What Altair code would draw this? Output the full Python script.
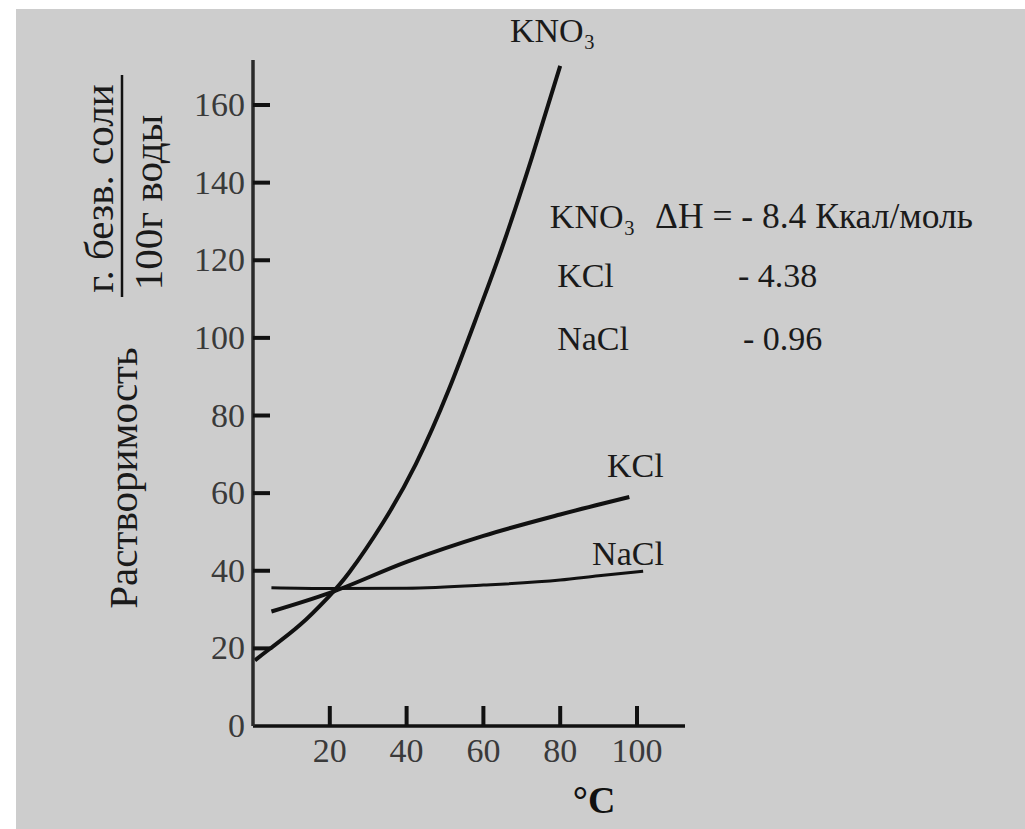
import altair as alt
import pandas as pd

# ---- data ----
kno3_t = [0.5, 4.4, 12.2, 19.5, 25.1, 33.8, 42.4, 51.0, 58.8, 64.8, 72.6, 80.0]
kno3_v = [16.9, 19.9, 26.0, 33.1, 39.6, 52.3, 67.5, 86.7, 106.9, 123.1, 146.4, 170.1]

kcl_t = [4.8, 20, 40, 60, 80, 98]
kcl_v = [29.5, 34.3, 42.3, 49.0, 54.5, 59.0]

nacl_t = [4.8, 20, 40, 60, 80, 90, 101.6]
nacl_v = [35.6, 35.4, 35.5, 36.3, 37.6, 38.7, 39.9]

x_ticks = [20, 40, 60, 80, 100]
y_ticks = [20, 40, 60, 80, 100, 120, 140, 160]
y_labels = [0, 20, 40, 60, 80, 100, 120, 140, 160]

ann_text = ["KNO₃", "KNO₃", "KCl", "- 4.38", "NaCl", "- 0.96", "KCl", "NaCl"]
ann_t = [66.9, 77.3, 79.2, 126.3, 79.2, 127.6, 92.2, 88.3]
ann_v = [176.3, 128.3, 113.1, 113.1, 96.9, 96.9, 64.2, 41.5]

dh_text = ["ΔH = - 8.4 Ккал/моль"]
dh_t = [104.7]
dh_v = [128.3]

x_title = "°C"
y_title = "Растворимость"
frac_num = "г. безв. соли"
frac_den = "100г воды"

X_DOMAIN = [0, 112.5]
Y_DOMAIN = [0, 171.6]
W, H = 432, 666
FONT = "Liberation Serif"

rows = []
for s, ts, vs in (("KNO3", kno3_t, kno3_v), ("KCl", kcl_t, kcl_v), ("NaCl", nacl_t, nacl_v)):
    for t, v in zip(ts, vs):
        rows.append({"salt": s, "t": t, "v": v})
lines_df = pd.DataFrame(rows)

xs = alt.Scale(domain=X_DOMAIN, nice=False, zero=False)
ys = alt.Scale(domain=Y_DOMAIN, nice=False, zero=False)

one = pd.DataFrame({"a": [0]})


def line(salt, width, interp):
    return alt.Chart(lines_df[lines_df.salt == salt]).mark_line(
        color="#111", strokeWidth=width, interpolate=interp, clip=False
    ).encode(
        x=alt.X("t:Q", scale=xs, axis=None),
        y=alt.Y("v:Q", scale=ys, axis=None),
        order="t:Q",
    )


kno3 = line("KNO3", 4, "natural")
kcl = line("KCl", 4, "monotone")
nacl = line("NaCl", 3, "monotone")

# axis lines
x_dom = alt.Chart(one).mark_rule(color="#111", strokeWidth=3.5).encode(
    x=alt.value(0), x2=alt.value(W), y=alt.value(H)
)
y_dom = alt.Chart(one).mark_rule(color="#2a2a2a", strokeWidth=3.5).encode(
    x=alt.value(0), y=alt.value(0), y2=alt.value(H)
)

# inward ticks
xt = alt.Chart(pd.DataFrame({"t": x_ticks})).mark_rule(color="#111", strokeWidth=4).encode(
    x=alt.X("t:Q", scale=xs, axis=None), y=alt.value(H), y2=alt.value(H - 20)
)
yt = alt.Chart(pd.DataFrame({"v": y_ticks})).mark_rule(color="#111", strokeWidth=4).encode(
    y=alt.Y("v:Q", scale=ys, axis=None), x=alt.value(0), x2=alt.value(17)
)

# tick labels
xl = alt.Chart(pd.DataFrame({"t": x_ticks})).mark_text(
    font=FONT, fontSize=34, color="#3a3a3a", align="center", baseline="middle"
).encode(x=alt.X("t:Q", scale=xs, axis=None), y=alt.value(H + 26), text="t:Q")
yl = alt.Chart(pd.DataFrame({"v": y_labels})).mark_text(
    font=FONT, fontSize=34, color="#3a3a3a", align="right", baseline="middle", dy=1
).encode(y=alt.Y("v:Q", scale=ys, axis=None), x=alt.value(-8), text="v:Q")

# axis titles
xtitle = alt.Chart(one).mark_text(
    text=x_title, font=FONT, fontSize=38, fontWeight="bold", color="#111",
    align="center", baseline="alphabetic"
).encode(x=alt.value(341), y=alt.value(H + 87))
ytitle = alt.Chart(one).mark_text(
    text=y_title, font=FONT, fontSize=41, color="#1a1a1a", angle=270,
    align="center", baseline="alphabetic"
).encode(x=alt.value(-116), y=alt.value(418))
frac_top = alt.Chart(one).mark_text(
    text=frac_num, font=FONT, fontSize=41, color="#1a1a1a", angle=270,
    align="center", baseline="alphabetic"
).encode(x=alt.value(-140), y=alt.value(128.5))
frac_bot = alt.Chart(one).mark_text(
    text=frac_den, font=FONT, fontSize=41, color="#1a1a1a", angle=270,
    align="center", baseline="alphabetic"
).encode(x=alt.value(-91), y=alt.value(142.5))
frac_line = alt.Chart(one).mark_rule(color="#111", strokeWidth=2.5).encode(
    x=alt.value(-131), y=alt.value(15), y2=alt.value(237)
)

# annotations
ann = alt.Chart(pd.DataFrame({"text": ann_text, "t": ann_t, "v": ann_v})).mark_text(
    font=FONT, fontSize=34, color="#1a1a1a", align="left", baseline="alphabetic"
).encode(
    x=alt.X("t:Q", scale=xs, axis=None), y=alt.Y("v:Q", scale=ys, axis=None), text="text:N"
)
dh = alt.Chart(pd.DataFrame({"text": dh_text, "t": dh_t, "v": dh_v})).mark_text(
    font=FONT, fontSize=35.5, color="#1a1a1a", align="left", baseline="alphabetic"
).encode(
    x=alt.X("t:Q", scale=xs, axis=None), y=alt.Y("v:Q", scale=ys, axis=None), text="text:N"
)

# white margins around the grey picture
margin_left = alt.Chart(one).mark_rect(color="white").encode(
    x=alt.value(-253), x2=alt.value(-237), y=alt.value(-60), y2=alt.value(769)
)
margin_top = alt.Chart(one).mark_rect(color="white").encode(
    x=alt.value(-253), x2=alt.value(772), y=alt.value(-60), y2=alt.value(-51)
)

chart = alt.layer(
    kno3, kcl, nacl, x_dom, y_dom, xt, yt, xl, yl, xtitle, ytitle,
    frac_top, frac_bot, frac_line, ann, dh, margin_left, margin_top
).properties(
    width=W, height=H,
    padding={"left": 253, "top": 60, "right": 340, "bottom": 103},
    autosize=alt.AutoSizeParams(type="none"),
    background="#cdcdcd",
).configure_view(stroke=None)

chart.save("out.html", embed_options={"renderer": "svg", "actions": False})
